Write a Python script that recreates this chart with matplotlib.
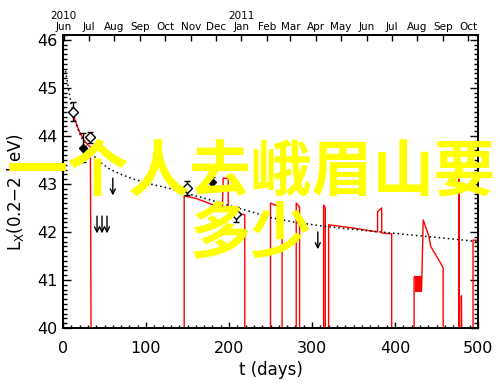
import numpy as np
import matplotlib
matplotlib.use("Agg")
import matplotlib.pyplot as plt
from matplotlib.ticker import MultipleLocator


# model light curve (red); 39 = below the axis floor, i.e. the drops
model_t = [12, 15, 20, 25, 30, 33, 34,
           146, 146, 160, 180, 192, 193, 199, 199, 208, 219, 219,
           250, 250, 257, 264, 264,
           281, 281, 285, 285,
           314, 314, 316, 316,
           320, 320, 350, 379, 379, 384, 384, 396, 396,
           423, 423, 424,
           432, 432, 434, 441, 443, 455, 458, 458,
           477, 477, 477.5, 480, 480, 480.5,
           494, 494, 500]
model_l = [44.5, 44.3, 44.08, 43.92, 43.81, 43.77, 39,
           39, 42.75, 42.7, 42.57, 42.52, 43.12, 43.12, 42.45, 42.38, 42.36, 39,
           39, 42.6, 42.55, 42.45, 39,
           39, 42.6, 42.52, 39,
           39, 42.56, 42.5, 39,
           39, 42.15, 42.08, 42.0, 42.42, 42.5, 41.98, 41.96, 39,
           39, 41.05, 41.08,
           40.8, 40.8, 42.25, 41.9, 41.7, 41.35, 41.25, 39,
           39, 43.1, 39, 39, 40.67, 39,
           39, 41.83, 41.83]

# fast flickering part drawn as a filled band
block_t = [424, 432]
block_lo = [40.75, 40.75]
block_hi = [41.08, 41.08]

# decay trend (dotted)
trend_t = [3, 6, 10, 15, 20, 27, 35, 45, 57, 70, 85, 105, 125, 150, 175,
           200, 225, 250, 280, 310, 340, 370, 400, 430, 460, 500]
trend_l = [45.35, 45.05, 44.65, 44.3, 44.05, 43.8, 43.62, 43.45, 43.3, 43.2,
           43.1, 43.0, 42.92, 42.8, 42.68, 42.55, 42.43, 42.3, 42.2, 42.13,
           42.07, 42.02, 41.97, 41.92, 41.87, 41.8]

# detections
det_t = [12, 33, 149, 208]
det_l = [44.5, 43.97, 42.92, 42.37]
det_err = [0.2, 0.12, 0.15, 0.16]

faint_t = [24, 180]
faint_l = [43.75, 43.04]
faint_err = [0.3, 0.1]

# upper limits
ul_t = [41, 47, 53, 60, 307]
ul_l = [42.33, 42.33, 42.33, 43.12, 42.0]

month_dates = ["2010-06-01", "2010-07-01", "2010-08-01", "2010-09-01",
               "2010-10-01", "2010-11-01", "2010-12-01", "2011-01-01",
               "2011-02-01", "2011-03-01", "2011-04-01", "2011-05-01",
               "2011-06-01", "2011-07-01", "2011-08-01", "2011-09-01",
               "2011-10-01"]
month_labels = ["Jun", "Jul", "Aug", "Sep", "Oct", "Nov", "Dec", "Jan",
                "Feb", "Mar", "Apr", "May", "Jun", "Jul", "Aug", "Sep", "Oct"]
T0 = np.datetime64("2010-05-31")

overlay_lines = ["一个人去峨眉山要", "多少"]


fig = plt.figure(figsize=(5.0, 3.85), dpi=100)
ax = fig.add_axes([0.126, 0.148, 0.83, 0.761])

ax.plot(model_t, model_l, color="#ff0000", lw=1.0, zorder=2)
ax.fill_between(block_t, block_lo, block_hi, color="#ff0000", lw=0, zorder=2)
ax.plot(trend_t, trend_l, color="k", lw=1.1, ls=(0, (1, 2)), zorder=3)

ax.errorbar(det_t, det_l, yerr=det_err, fmt="D", mfc="white", mec="k", mew=1.0,
            ms=5.5, ecolor="k", elinewidth=1.0, capsize=2.5, zorder=4)
ax.errorbar(faint_t, faint_l, yerr=faint_err, fmt="D", mfc="k", mec="k",
            ms=4, ecolor="k", elinewidth=1.0, capsize=2.5, zorder=4)

for t, l in zip(ul_t, ul_l):
    ax.annotate("", xy=(t, l - 0.36), xytext=(t, l),
                arrowprops=dict(arrowstyle="->", color="k", lw=1.0,
                                mutation_scale=9, shrinkA=0, shrinkB=0),
                zorder=4)

ax.set_xlim(0, 500)
ax.set_ylim(40, 46.1)
ax.xaxis.set_major_locator(MultipleLocator(100))
ax.xaxis.set_minor_locator(MultipleLocator(10))
ax.yaxis.set_major_locator(MultipleLocator(1))
ax.yaxis.set_minor_locator(MultipleLocator(0.1))
ax.tick_params(axis="x", which="major", direction="in", length=4.5, width=1,
               top=False, pad=9, labelsize=11.5)
ax.tick_params(axis="x", which="minor", direction="in", length=2.2, width=1, top=False)
ax.tick_params(axis="y", which="major", direction="in", length=6, width=1,
               right=True, pad=4, labelsize=11.5)
ax.tick_params(axis="y", which="minor", direction="in", length=3, width=1, right=True)
for sp in ax.spines.values():
    sp.set_linewidth(1.4)

ax.set_xlabel("t (days)", fontsize=12, labelpad=4)
ax.set_ylabel(r"L$_{\rm X}$(0.2$-$2 keV)", fontsize=12)
ax.yaxis.set_label_coords(-0.09, 0.465)

# calendar axis on top
top = ax.twiny()
top.set_xlim(ax.get_xlim())
month_t = [(np.datetime64(d) - T0).astype(int) for d in month_dates]
top.set_xticks(month_t)
top.set_xticklabels(month_labels, fontsize=7.5)
top.tick_params(axis="x", direction="in", length=4, width=1, pad=2)
for sp in top.spines.values():
    sp.set_visible(False)
for t, year in [(month_t[0], "2010"), (month_t[7], "2011")]:
    top.text(t, 1.065, year, transform=top.get_xaxis_transform(),
             ha="center", va="center", fontsize=7.5)

# yellow overlay
for i, line in enumerate(overlay_lines):
    fig.text(0.502, 1 - (173 + 62 * i) / 385, line, ha="center", va="center",
             fontsize=44, color="#ffff00", fontweight="bold",
             family=["Noto Sans CJK SC", "DejaVu Sans"], zorder=10)

fig.savefig("out.png", dpi=100)
